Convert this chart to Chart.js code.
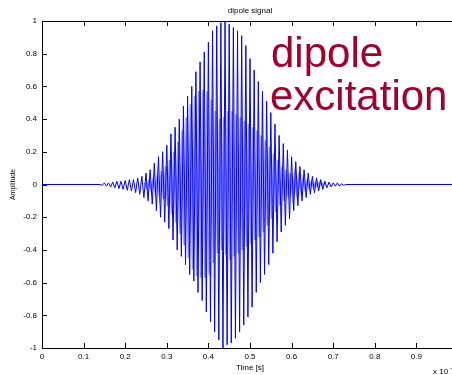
<!DOCTYPE html>
<html><head><meta charset="utf-8">
<script src="https://cdn.jsdelivr.net/npm/chart.js@4/dist/chart.umd.min.js"></script>
<style>
html,body{margin:0;padding:0;background:#fff;overflow:hidden;width:452px;height:375px}
#wrap{position:absolute;left:0;top:0;width:466px;height:375px}
</style></head><body>
<div id="wrap"><canvas id="c" width="466" height="375"></canvas></div>
<script>
const chartTitle = 'dipole signal';
const xLabel = 'Time [s]';
const yLabel = 'Amplitude';
const xExponent = ['x 10', '-7'];
const annotationLines = ['dipole', 'excitation'];

const xTickValues = [0, 0.1, 0.2, 0.3, 0.4, 0.5, 0.6, 0.7, 0.8, 0.9, 1];
const xTickLabels = ['0', '0.1', '0.2', '0.3', '0.4', '0.5', '0.6', '0.7', '0.8', '0.9', '1'];
const yTickValues = [-1, -0.8, -0.6, -0.4, -0.2, 0, 0.2, 0.4, 0.6, 0.8, 1];
const yTickLabels = ['-1', '-0.8', '-0.6', '-0.4', '-0.2', '0', '0.2', '0.4', '0.6', '0.8', '1'];

// times (x 1e-7 s) of successive signal extremes (outer envelope)
const times = [0,
0.140,0.145,0.150,0.155,0.160,0.165,0.170,0.175,0.180,0.185,
0.190,0.195,0.200,0.205,0.210,0.215,0.220,0.225,0.230,0.235,
0.240,0.245,0.250,0.255,0.260,0.265,0.270,0.275,0.280,0.285,
0.290,0.295,0.300,0.305,0.310,0.315,0.320,0.325,0.330,0.335,
0.340,0.345,0.350,0.355,0.360,0.365,0.370,0.375,0.380,0.385,
0.390,0.395,0.400,0.405,0.410,0.415,0.420,0.425,0.430,0.435,
0.440,0.445,0.450,0.455,0.460,0.465,0.470,0.475,0.480,0.485,
0.490,0.495,0.500,0.505,0.510,0.515,0.520,0.525,0.530,0.535,
0.540,0.545,0.550,0.555,0.560,0.565,0.570,0.575,0.580,0.585,
0.590,0.595,0.600,0.605,0.610,0.615,0.620,0.625,0.630,0.635,
0.640,0.645,0.650,0.655,0.660,0.665,0.670,0.675,0.680,0.685,
0.690,0.695,0.700,0.705,0.710,0.715,0.720,0.725,0.730,
1];

// amplitude at each extreme
const amplitudes = [0,
0.00,-0.005,0.01,-0.01,0.01,-0.015,0.015,-0.02,0.02,-0.025,
0.02,-0.03,0.025,-0.035,0.03,-0.04,0.03,-0.05,0.04,-0.06,
0.05,-0.08,0.07,-0.10,0.09,-0.12,0.13,-0.16,0.17,-0.20,
0.20,-0.23,0.24,-0.27,0.31,-0.34,0.35,-0.40,0.40,-0.44,
0.48,-0.49,0.54,-0.55,0.60,-0.59,0.69,-0.66,0.75,-0.71,
0.81,-0.78,0.87,-0.84,0.94,-0.90,0.97,-0.95,0.99,-1.00,
1.00,-0.98,0.98,-0.97,0.96,-0.94,0.94,-0.90,0.91,-0.86,
0.85,-0.81,0.77,-0.75,0.70,-0.66,0.63,-0.60,0.57,-0.55,
0.51,-0.49,0.44,-0.42,0.37,-0.35,0.30,-0.29,0.25,-0.25,
0.21,-0.21,0.17,-0.16,0.14,-0.13,0.11,-0.10,0.09,-0.08,
0.07,-0.06,0.05,-0.05,0.04,-0.04,0.03,-0.03,0.02,-0.02,
0.015,-0.015,0.01,-0.01,0.01,-0.01,0.005,-0.005,0.00,
0];

// in-between extremes forming the paler inner band
const innerTimes = [
0.2475,0.2525,0.2575,0.2625,0.2675,0.2725,0.2775,0.2825,0.2875,0.2925,
0.2975,0.3025,0.3075,0.3125,0.3175,0.3225,0.3275,0.3325,0.3375,0.3425,
0.3475,0.3525,0.3575,0.3625,0.3675,0.3725,0.3775,0.3825,0.3875,0.3925,
0.3975,0.4025,0.4075,0.4125,0.4175,0.4225,0.4275,0.4325,0.4375,0.4425,
0.4475,0.4525,0.4575,0.4625,0.4675,0.4725,0.4775,0.4825,0.4875,0.4925,
0.4975,0.5025,0.5075,0.5125,0.5175,0.5225,0.5275,0.5325,0.5375,0.5425,
0.5475,0.5525,0.5575,0.5625,0.5675,0.5725,0.5775,0.5825,0.5875,0.5925,
0.5975,0.6025,0.6075,0.6125,0.6175,0.6225,0.6275,0.6325,0.6375,0.6425,
0.6475,0.6525,0.6575,0.6625,0.6675,0.6725,0.6775,0.6825];
const innerAmplitudes = [
0.01,-0.02,0.02,-0.03,0.03,-0.04,0.05,-0.06,0.08,-0.09,
0.11,-0.13,0.15,-0.18,0.20,-0.23,0.26,-0.30,0.33,-0.37,
0.41,-0.45,0.49,-0.52,0.54,-0.56,0.57,-0.57,0.58,-0.57,
0.57,-0.55,0.52,-0.48,0.45,-0.42,0.40,-0.40,0.41,-0.43,
0.45,-0.46,0.45,-0.44,0.43,-0.42,0.41,-0.40,0.39,-0.38,
0.37,-0.36,0.35,-0.34,0.33,-0.32,0.30,-0.29,0.27,-0.25,
0.23,-0.21,0.19,-0.17,0.15,-0.13,0.11,-0.10,0.09,-0.08,
0.07,-0.06,0.05,-0.045,0.04,-0.035,0.03,-0.025,0.02,-0.02,
0.015,-0.015,0.01,-0.01,0.01,-0.005,0.005,0];

const FONT = '"Liberation Sans", Arial, Helvetica, sans-serif';
const points = times.map((t, i) => ({x: t, y: amplitudes[i]}));
const innerPoints = innerTimes.map((t, i) => ({x: t, y: innerAmplitudes[i]}));

const framePlugin = {
  id: 'frame',
  afterDraw(chart) {
    const ctx = chart.ctx;
    const {left, right, top, bottom} = chart.chartArea;
    const xs = chart.scales.x, ys = chart.scales.y;
    ctx.save();
    ctx.strokeStyle = '#000';
    ctx.lineWidth = 1;
    ctx.beginPath();
    ctx.moveTo(left, Math.round(top) + 0.5); ctx.lineTo(right, Math.round(top) + 0.5);
    ctx.moveTo(Math.round(right) - 0.5, top); ctx.lineTo(Math.round(right) - 0.5, bottom);
    xTickValues.forEach(v => {
      const px = Math.round(xs.getPixelForValue(v)) + 0.5;
      ctx.moveTo(px, bottom); ctx.lineTo(px, bottom - 5);
      ctx.moveTo(px, top); ctx.lineTo(px, top + 5);
    });
    yTickValues.forEach(v => {
      const py = Math.round(ys.getPixelForValue(v)) + 0.5;
      ctx.moveTo(left, py); ctx.lineTo(left + 5, py);
      ctx.moveTo(right, py); ctx.lineTo(right - 5, py);
    });
    ctx.stroke();

    ctx.fillStyle = '#000';
    ctx.font = '8px ' + FONT;
    ctx.textAlign = 'center';
    ctx.textBaseline = 'middle';
    ctx.fillText(chartTitle, (left + right) / 2, 11);

    ctx.textAlign = 'left';
    ctx.fillText(xExponent[0], 433, 372);
    ctx.font = '6px ' + FONT;
    ctx.fillText(xExponent[1], 450, 368);

    ctx.fillStyle = '#a3002b';
    ctx.font = '42px ' + FONT;
    ctx.textBaseline = 'alphabetic';
    ctx.fillText(annotationLines[0], 271, 67);
    ctx.fillText(annotationLines[1], 270, 110);
    ctx.restore();
  }
};

new Chart(document.getElementById('c'), {
  type: 'line',
  data: {
    datasets: [{
      data: points,
      borderColor: '#0000ff',
      borderWidth: 1,
      pointRadius: 0,
      tension: 0,
      fill: false,
      order: 0
    }, {
      data: innerPoints,
      borderColor: 'rgba(40,40,255,0.5)',
      borderWidth: 2.2,
      pointRadius: 0,
      tension: 0,
      fill: false,
      order: 1
    }]
  },
  options: {
    responsive: false,
    animation: false,
    devicePixelRatio: 1,
    layout: {padding: {left: 0, right: 8, top: 21, bottom: 0}},
    plugins: {legend: {display: false}, tooltip: {enabled: false}, title: {display: false}},
    scales: {
      x: {
        type: 'linear', min: 0, max: 1, position: 'bottom',
        afterBuildTicks: s => { s.ticks = xTickValues.map(v => ({value: v})); },
        afterFit: s => { s.height = 27; },
        ticks: {
          callback: (v, i) => xTickLabels[i],
          font: {family: FONT, size: 8}, color: '#000', padding: 4,
          maxRotation: 0, autoSkip: false
        },
        grid: {display: true, drawOnChartArea: false, drawTicks: false},
        border: {display: true, color: '#000', width: 1},
        title: {display: true, text: xLabel, color: '#000', font: {family: FONT, size: 8}, padding: {top: 0, bottom: 2}}
      },
      y: {
        type: 'linear', min: -1, max: 1, position: 'left',
        afterBuildTicks: s => { s.ticks = yTickValues.map(v => ({value: v})); },
        afterFit: s => { s.width = 42; },
        ticks: {
          callback: (v, i) => yTickLabels[i],
          font: {family: FONT, size: 8}, color: '#000', padding: 5,
          autoSkip: false
        },
        grid: {display: true, drawOnChartArea: false, drawTicks: false},
        border: {display: true, color: '#000', width: 1},
        title: {display: true, text: yLabel, color: '#000', font: {family: FONT, size: 7}, padding: {top: 9, bottom: 0}}
      }
    }
  },
  plugins: [framePlugin]
});
</script>
</body></html>
